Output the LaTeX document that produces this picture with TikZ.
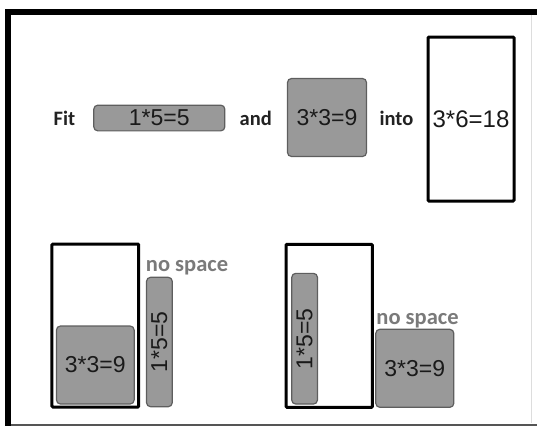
\documentclass[tikz,border=0pt]{standalone}
\usepackage{fontspec}
\setmainfont{Liberation Sans}
\newfontfamily\calfont{Carlito}
\newfontfamily\digfont{Liberation Sans}

\definecolor{boxgray}{HTML}{999999}
\definecolor{edgegray}{HTML}{5E5E5E}
\definecolor{textdark}{HTML}{1A1A1A}
\definecolor{worddark}{HTML}{222222}
\definecolor{notegray}{HTML}{7A7A7A}
\definecolor{rimgray}{HTML}{555555}
\definecolor{faintgray}{HTML}{DDDDDD}

\tikzset{
  gbox/.style={draw=edgegray, fill=boxgray, line width=1.2pt, rounded corners=4pt,
    inner sep=0pt, text=textdark, font=\digfont\fontsize{23}{27}\selectfont},
  bin/.style={draw=black, fill=white, line width=3pt, rounded corners=1pt,
    inner sep=0pt, text=textdark, font=\digfont\fontsize{23}{27}\selectfont},
  word/.style={anchor=base, inner sep=0pt, text=worddark,
    font=\calfont\bfseries\fontsize{20.5}{24}\selectfont},
  note/.style={anchor=base, inner sep=0pt, text=notegray,
    font=\calfont\bfseries\fontsize{22.5}{26}\selectfont},
}

\begin{document}
\begin{tikzpicture}[x=1pt, y=-1pt]
\useasboundingbox (0,0) rectangle (537,426);

% page frame
\coordinate (ftr) at (537,12);
\coordinate (fbl) at (8,426);
\coordinate (bl) at (5,424.5);
\coordinate (br) at (537,424.5);
\coordinate (rt) at (531,15);
\coordinate (rb) at (531,423);
\draw[faintgray, line width=1pt] (rt) -- (rb);
\draw[rimgray, line width=2pt] (bl) -- (br);
\draw[black, line width=6pt] (5,12) -- (ftr);
\draw[black, line width=6pt] (8,9) -- (fbl);

% statement row
\node[word] (fit) at (64.5,125) {Fit};
\node[gbox, minimum width=131pt, minimum height=25.7pt] (piece15) at (159.3,118) {1*5=5};
\node[word] (and) at (255.8,125) {and};
\node[gbox, minimum width=79pt, minimum height=78pt] (piece33) at (327,117.5) {3*3=9};
\node[word] (into) at (396.4,125) {into};
\node[bin, minimum width=86pt, minimum height=164pt,
      font=\digfont\fontsize{24}{28}\selectfont] (target) at (471,119) {3*6=18};

% first attempt: square placed first
\node[bin, minimum width=86.7pt, minimum height=163pt] (binA) at (95.3,325.5) {};
\node[gbox, minimum width=77.7pt, minimum height=78pt] (sqA) at (95.3,365) {3*3=9};
\node[gbox, minimum width=25.7pt, minimum height=129.4pt] (barA) at (159.4,342) {};
\node[gbox, draw=none, fill=none, rotate=90] (barAtext) at (barA.center) {1*5=5};
\node[note] (noteA) at (187,271.7) {no space};

% second attempt: bar placed first
\node[bin, minimum width=86.3pt, minimum height=163pt] (binB) at (329.2,325.8) {};
\node[gbox, minimum width=25.7pt, minimum height=130.7pt] (barB) at (304.6,338.7) {};
\node[gbox, draw=none, fill=none, rotate=90] (barBtext) at (barB.center) {1*5=5};
\node[note] (noteB) at (417.5,324) {no space};
\node[gbox, minimum width=78pt, minimum height=78pt] (sqB) at (414.8,368.3) {3*3=9};
\end{tikzpicture}
\end{document}
